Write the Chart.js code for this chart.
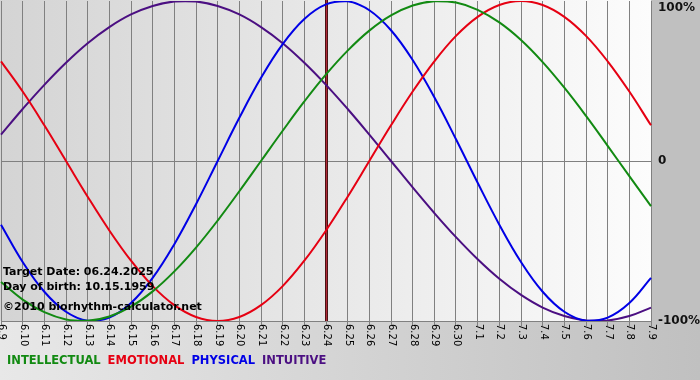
<!DOCTYPE html>
<html><head><meta charset="utf-8">
<script src="https://cdn.jsdelivr.net/npm/chart.js@4"></script>
<style>html,body{margin:0;padding:0;background:#d0d0d0;overflow:hidden}#wrap{width:700px;height:380px}</style>
</head><body><div id="wrap"><canvas id="c" width="700" height="380"></canvas></div>
<script>
// ---- data ----
const days = ["6.9","6.10","6.11","6.12","6.13","6.14","6.15","6.16","6.17","6.18","6.19","6.20","6.21","6.22","6.23","6.24","6.25","6.26","6.27","6.28","6.29","6.30","7.1","7.2","7.3","7.4","7.5","7.6","7.7","7.8","7.9"];
const intellectual = [-75.6,-86.6,-94.5,-99.0,-99.9,-97.2,-91.0,-81.5,-69.0,-54.1,-37.2,-18.9,0,18.9,37.2,54.1,69.0,81.5,91.0,97.2,99.9,99.0,94.5,86.6,75.6,61.8,45.8,28.2,9.5,-9.5,-28.2];
const emotional = [62.3,43.4,22.3,0,-22.3,-43.4,-62.3,-78.2,-90.1,-97.5,-100,-97.5,-90.1,-78.2,-62.3,-43.4,-22.3,0,22.3,43.4,62.3,78.2,90.1,97.5,100,97.5,90.1,78.2,62.3,43.4,22.3];
const physical = [-39.8,-63.1,-81.7,-94.2,-99.8,-97.9,-88.8,-73.1,-52.0,-27.0,0,27.0,52.0,73.1,88.8,97.9,99.8,94.2,81.7,63.1,39.8,13.6,-13.6,-39.8,-63.1,-81.7,-94.2,-99.8,-97.9,-88.8,-73.1];
const intuitive = [16.5,32.5,47.6,61.4,73.6,83.7,91.6,96.9,99.7,99.7,96.9,91.6,83.7,73.6,61.4,47.6,32.5,16.5,0,-16.5,-32.5,-47.6,-61.4,-73.6,-83.7,-91.6,-96.9,-99.7,-99.7,-96.9,-91.6];
const seriesNames = ["INTELLECTUAL","EMOTIONAL","PHYSICAL","INTUITIVE"];
const seriesColors = ["#128a12","#e60012","#0000e6","#4b0f82"];
const yTickValues = [100, 0, -100];
const yTickLabels = ["100%", "0", "-100%"];
const targetDay = "6.24";
const infoLines = ["Target Date: 06.24.2025", "Day of birth: 10.15.1959", "\u00A92010 biorhythm-calculator.net"];

const FONT = "'DejaVu Sans', Verdana, sans-serif";

const bgPlugin = {
  id: 'bg',
  beforeDraw(chart) {
    const {ctx, chartArea: a, width, height} = chart;
    ctx.save();
    let g = ctx.createLinearGradient(0, 0, width, 0);
    g.addColorStop(0, '#e8e8e8'); g.addColorStop(1, '#c0c0c0');
    ctx.fillStyle = g; ctx.fillRect(0, 0, width, height);
    ctx.fillStyle = '#c0c0c0'; ctx.fillRect(a.right, 0, width - a.right, a.bottom);
    g = ctx.createLinearGradient(a.left, 0, a.right, 0);
    g.addColorStop(0, '#d4d4d4'); g.addColorStop(1, '#fcfcfc');
    ctx.fillStyle = g; ctx.fillRect(0, 0, a.right, a.bottom);
    ctx.restore();
  },
  beforeDatasetsDraw(chart) {
    const {ctx, chartArea: a, scales} = chart;
    const x = Math.round(scales.x.getPixelForValue(days.indexOf(targetDay)));
    ctx.save();
    ctx.fillStyle = '#4a1414'; ctx.fillRect(x - 1, a.top - 1, 3, a.bottom - a.top + 1);
    ctx.fillStyle = '#b02838'; ctx.fillRect(x, a.top - 1, 1, a.bottom - a.top + 1);
    ctx.restore();
  },
  afterDatasetsDraw(chart) {
    const {ctx} = chart;
    ctx.save();
    ctx.font = "bold 11px " + FONT;
    ctx.fillStyle = '#000';
    ctx.textAlign = 'left'; ctx.textBaseline = 'middle';
    const ys = [272, 287, 307];
    infoLines.forEach((t, i) => ctx.fillText(t, 3, ys[i]));
    ctx.restore();
  },
  afterDraw(chart) {
    const {ctx, chartArea: a, scales} = chart;
    ctx.save();
    // x labels, rotated clockwise
    ctx.font = "10px " + FONT;
    ctx.fillStyle = '#000';
    ctx.textAlign = 'left'; ctx.textBaseline = 'middle';
    days.forEach((d, i) => {
      const x = scales.x.getPixelForTick(i);
      ctx.save(); ctx.translate(x + 0.5, a.bottom + 3); ctx.rotate(Math.PI / 2);
      ctx.fillText(d, 0, 0); ctx.restore();
    });
    // y labels on right
    ctx.font = "bold 12px " + FONT;
    ctx.fillStyle = '#111';
    yTickValues.forEach((v, i) => {
      const y = Math.max(scales.y.getPixelForValue(v), 8);
      ctx.fillText(yTickLabels[i], a.right + 7, y);
    });
    // legend
    ctx.font = "bold 11.5px " + FONT;
    let x = 7;
    chart.data.datasets.forEach(ds => {
      ctx.fillStyle = ds.borderColor;
      ctx.fillText(ds.label, x, 361);
      x += ctx.measureText(ds.label).width + 7;
    });
    ctx.restore();
  }
};

const seriesData = [intellectual, emotional, physical, intuitive];
new Chart(document.getElementById('c'), {
  type: 'line',
  data: {
    labels: days,
    datasets: seriesNames.map((n, i) => ({
      label: n, data: seriesData[i], borderColor: seriesColors[i], backgroundColor: seriesColors[i],
      borderWidth: 2, pointRadius: 0, tension: 0.4, fill: false
    }))
  },
  options: {
    responsive: false, animation: false, devicePixelRatio: 1,
    layout: {padding: {left: 1, right: 49, top: 1, bottom: 54}},
    plugins: {legend: {display: false}, tooltip: {enabled: false}},
    scales: {
      x: {
        ticks: {display: false},
        grid: {color: '#808080', lineWidth: 1, drawTicks: true, tickLength: 5, tickColor: '#808080'},
        border: {display: true, color: '#808080'}
      },
      y: {
        position: 'right', min: -100, max: 100,
        afterBuildTicks(scale) { scale.ticks = yTickValues.map(v => ({value: v})); },
        ticks: {display: false},
        grid: {drawTicks: false, color: c => (c.tick && c.tick.value === 0) ? '#808080' : 'rgba(0,0,0,0)'},
        border: {display: false}
      }
    }
  },
  plugins: [bgPlugin]
});
</script>
</body></html>
